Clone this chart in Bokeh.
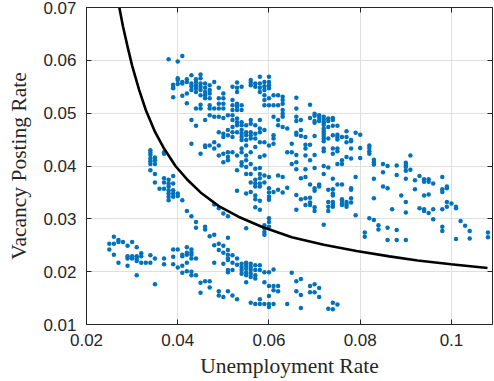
from bokeh.plotting import figure
from bokeh.models import LinearAxis, FixedTicker, Range1d, CustomJSTickFormatter
from bokeh.embed import file_html
from bokeh.resources import INLINE

# ---- data ----
u_columns = [0.025, 0.026, 0.027, 0.028, 0.029, 0.030, 0.031, 0.032, 0.033, 0.034,
             0.035, 0.036, 0.037, 0.038, 0.039, 0.040, 0.041, 0.042, 0.043, 0.044,
             0.045, 0.046, 0.047, 0.048, 0.049, 0.050, 0.051, 0.052, 0.053, 0.054,
             0.055, 0.056, 0.057, 0.058, 0.059, 0.060, 0.061, 0.062, 0.063, 0.064,
             0.065, 0.066, 0.067, 0.068, 0.069, 0.070, 0.071, 0.072, 0.073, 0.074,
             0.075, 0.076, 0.077, 0.078, 0.079, 0.080, 0.081, 0.082, 0.083, 0.084,
             0.085, 0.086, 0.087, 0.088, 0.089, 0.090, 0.091, 0.092, 0.093, 0.094,
             0.095, 0.096, 0.098, 0.099, 0.100, 0.101, 0.102, 0.103, 0.104, 0.108]

v_by_column = [
    [0.0253, 0.0242],
    [0.0266, 0.0253, 0.0232],
    [0.0260, 0.0256, 0.0217],
    [0.0256],
    [0.0249, 0.0229, 0.0225, 0.0211],
    [0.0256, 0.0229, 0.0225],
    [0.0246, 0.0229, 0.0225, 0.0220, 0.0193],
    [0.0235, 0.0229, 0.0217],
    [0.0217],
    [0.0430, 0.0425, 0.0421, 0.0414, 0.0409, 0.0404, 0.0392, 0.0231, 0.0217],
    [0.0416, 0.0411, 0.0404, 0.0385, 0.0369, 0.0225, 0.0176],
    [0.0357],
    [0.0426, 0.0423, 0.0377, 0.0369, 0.0357, 0.0225, 0.0214],
    [0.0602, 0.0374, 0.0367, 0.0361, 0.0354, 0.0348, 0.0342, 0.0335],
    [0.0554, 0.0550, 0.0547, 0.0530, 0.0381, 0.0367, 0.0354, 0.0348, 0.0342, 0.0242, 0.0228, 0.0214],
    [0.0598, 0.0566, 0.0563, 0.0555, 0.0348, 0.0343, 0.0242, 0.0208],
    [0.0608, 0.0559, 0.0556, 0.0533, 0.0335, 0.0232, 0.0229, 0.0211, 0.0198],
    [0.0564, 0.0559, 0.0537, 0.0519, 0.0315, 0.0246, 0.0236, 0.0232, 0.0217, 0.0201],
    [0.0572, 0.0556, 0.0551, 0.0544, 0.0487, 0.0442, 0.0305, 0.0242, 0.0236, 0.0232, 0.0225, 0.0200, 0.0193],
    [0.0564, 0.0559, 0.0553, 0.0547, 0.0540, 0.0509, 0.0476, 0.0294, 0.0283, 0.0225, 0.0193],
    [0.0573, 0.0566, 0.0556, 0.0550, 0.0544, 0.0534, 0.0516, 0.0509, 0.0423, 0.0179, 0.0160],
    [0.0556, 0.0548, 0.0540, 0.0534, 0.0528, 0.0487, 0.0439, 0.0436, 0.0285, 0.0280, 0.0182],
    [0.0553, 0.0544, 0.0537, 0.0528, 0.0515, 0.0509, 0.0496, 0.0439, 0.0267, 0.0182, 0.0170],
    [0.0559, 0.0509, 0.0493, 0.0445, 0.0433, 0.0327, 0.0270, 0.0250, 0.0217],
    [0.0548, 0.0528, 0.0518, 0.0509, 0.0493, 0.0464, 0.0439, 0.0420, 0.0320, 0.0253, 0.0241, 0.0163, 0.0155],
    [0.0537, 0.0528, 0.0518, 0.0509, 0.0491, 0.0461, 0.0455, 0.0423, 0.0407, 0.0310, 0.0249, 0.0236, 0.0215, 0.0152],
    [0.0496, 0.0468, 0.0458, 0.0426, 0.0417, 0.0411, 0.0305, 0.0264, 0.0241, 0.0232, 0.0225, 0.0222, 0.0203, 0.0199, 0.0163],
    [0.0550, 0.0525, 0.0515, 0.0506, 0.0496, 0.0487, 0.0474, 0.0464, 0.0455, 0.0426, 0.0231, 0.0217, 0.0203, 0.0155],
    [0.0558, 0.0548, 0.0540, 0.0518, 0.0512, 0.0506, 0.0490, 0.0483, 0.0477, 0.0464, 0.0420, 0.0392, 0.0353, 0.0225, 0.0213, 0.0148],
    [0.0550, 0.0515, 0.0506, 0.0483, 0.0477, 0.0468, 0.0461, 0.0455, 0.0449, 0.0433, 0.0426, 0.0407, 0.0401, 0.0215, 0.0209, 0.0203, 0.0196],
    [0.0477, 0.0464, 0.0458, 0.0449, 0.0439, 0.0420, 0.0411, 0.0398, 0.0385, 0.0348, 0.0282, 0.0217, 0.0212, 0.0206, 0.0199, 0.0193, 0.0180],
    [0.0563, 0.0558, 0.0553, 0.0487, 0.0480, 0.0464, 0.0458, 0.0452, 0.0426, 0.0404, 0.0385, 0.0369, 0.0351, 0.0215, 0.0209, 0.0203, 0.0196, 0.0190, 0.0141],
    [0.0556, 0.0550, 0.0477, 0.0461, 0.0452, 0.0436, 0.0395, 0.0374, 0.0367, 0.0361, 0.0344, 0.0337, 0.0322, 0.0212, 0.0203, 0.0193, 0.0187, 0.0139],
    [0.0569, 0.0556, 0.0548, 0.0540, 0.0487, 0.0471, 0.0464, 0.0445, 0.0417, 0.0396, 0.0385, 0.0377, 0.0367, 0.0361, 0.0334, 0.0317, 0.0212, 0.0203, 0.0148, 0.0139],
    [0.0559, 0.0551, 0.0544, 0.0534, 0.0525, 0.0515, 0.0468, 0.0445, 0.0420, 0.0382, 0.0369, 0.0288, 0.0282, 0.0275, 0.0270, 0.0199, 0.0180, 0.0139],
    [0.0569, 0.0559, 0.0553, 0.0547, 0.0528, 0.0515, 0.0439, 0.0379, 0.0358, 0.0350, 0.0342, 0.0336, 0.0301, 0.0294, 0.0285, 0.0199, 0.0173, 0.0154, 0.0139, 0.0133],
    [0.0534, 0.0515, 0.0493, 0.0458, 0.0452, 0.0442, 0.0351, 0.0204, 0.0173, 0.0165, 0.0139],
    [0.0534, 0.0515, 0.0487, 0.0477, 0.0382, 0.0355, 0.0173, 0.0163],
    [0.0531, 0.0525, 0.0518, 0.0506, 0.0499, 0.0493, 0.0474, 0.0379, 0.0350],
    [0.0471, 0.0426, 0.0359, 0.0139],
    [0.0442, 0.0426, 0.0404, 0.0198],
    [0.0529, 0.0509, 0.0493, 0.0485, 0.0463, 0.0459, 0.0421, 0.0407, 0.0394, 0.0345, 0.0317, 0.0182, 0.0163],
    [0.0487, 0.0468, 0.0457, 0.0377, 0.0337, 0.0186, 0.0156, 0.0131],
    [0.0455, 0.0440, 0.0433, 0.0420, 0.0394, 0.0379, 0.0339, 0.0326],
    [0.0516, 0.0491, 0.0440, 0.0411, 0.0365, 0.0340, 0.0331, 0.0326, 0.0173, 0.0161],
    [0.0499, 0.0495, 0.0485, 0.0482, 0.0457, 0.0421, 0.0396, 0.0358, 0.0353, 0.0322, 0.0315, 0.0176, 0.0161],
    [0.0496, 0.0491, 0.0485, 0.0365, 0.0361, 0.0169, 0.0152],
    [0.0493, 0.0488, 0.0483, 0.0478, 0.0471, 0.0466, 0.0461, 0.0457, 0.0452, 0.0447, 0.0433, 0.0428, 0.0400, 0.0385, 0.0289],
    [0.0490, 0.0485, 0.0474, 0.0452, 0.0397, 0.0355, 0.0332, 0.0323, 0.0315, 0.0130],
    [0.0491, 0.0487, 0.0476, 0.0458, 0.0433, 0.0423, 0.0376, 0.0356, 0.0348, 0.0344, 0.0332, 0.0327, 0.0323, 0.0141, 0.0129],
    [0.0476, 0.0459, 0.0455, 0.0450, 0.0433, 0.0428, 0.0404, 0.0365, 0.0138],
    [0.0455, 0.0411, 0.0404, 0.0365, 0.0337, 0.0334, 0.0329, 0.0326],
    [0.0466, 0.0455, 0.0445, 0.0417, 0.0332, 0.0327, 0.0323],
    [0.0449, 0.0447, 0.0433, 0.0414, 0.0358, 0.0355, 0.0339, 0.0331],
    [0.0463, 0.0379, 0.0307],
    [0.0459, 0.0434, 0.0415],
    [0.0274, 0.0266],
    [0.0439, 0.0434, 0.0428, 0.0423, 0.0301],
    [0.0412, 0.0407, 0.0403, 0.0376, 0.0339, 0.0298],
    [0.0288, 0.0280],
    [0.0404, 0.0388, 0.0361],
    [0.0400, 0.0358, 0.0283, 0.0260],
    [0.0318],
    [0.0401, 0.0383, 0.0279, 0.0260],
    [0.0344],
    [0.0406, 0.0402, 0.0398, 0.0391, 0.0376, 0.0332, 0.0312, 0.0260],
    [0.0420, 0.0393],
    [0.0373, 0.0356],
    [0.0381, 0.0320],
    [0.0375, 0.0370, 0.0344, 0.0318, 0.0315],
    [0.0375, 0.0370, 0.0346, 0.0311],
    [0.0367, 0.0318, 0.0299],
    [0.0379, 0.0356, 0.0351, 0.0318, 0.0285, 0.0277],
    [0.0361, 0.0358, 0.0332, 0.0323],
    [0.0329],
    [0.0323, 0.0320, 0.0262],
    [0.0296],
    [0.0287],
    [0.0277, 0.0263],
    [0.0274, 0.0265],
]

curve_u = [0.0272, 0.0280, 0.0290, 0.0300, 0.0315, 0.0330, 0.0350, 0.0370, 0.0395,
           0.0420, 0.0450, 0.0490, 0.0533, 0.0584, 0.0650, 0.0720, 0.0792, 0.0864,
           0.0926, 0.0999, 0.1079]
curve_v = [0.0700, 0.0664, 0.0626, 0.0590, 0.0545, 0.0506, 0.0465, 0.0433, 0.0400,
           0.0375, 0.0350, 0.0324, 0.0304, 0.0285, 0.0265, 0.0251, 0.0239, 0.0229,
           0.0221, 0.0214, 0.0207]

x_ticks = [0.02, 0.04, 0.06, 0.08, 0.1]
x_labels = ["0.02", "0.04", "0.06", "0.08", "0.1"]
y_ticks = [0.01, 0.02, 0.03, 0.04, 0.05, 0.06, 0.07]
y_labels = ["0.01", "0.02", "0.03", "0.04", "0.05", "0.06", "0.07"]

unemployment = []
vacancy = []
for uc, vs in zip(u_columns, v_by_column):
    for vv in vs:
        unemployment.append(uc)
        vacancy.append(vv)

AX = "#262626"
GRID = "#dfdfdf"
BLUE = "#0072BD"

p = figure(frame_width=406, frame_height=317,
           x_range=Range1d(0.02, 0.109), y_range=Range1d(0.01, 0.07),
           output_backend="svg", toolbar_location=None,
           min_border_left=86, min_border_right=2, min_border_top=7, min_border_bottom=57,
           x_axis_label="Unemployment Rate", y_axis_label="Vacancy Posting Rate")
p.outline_line_color = None
p.background_fill_color = "white"
p.border_fill_color = "white"

code = ("const i = tvals.findIndex(t => Math.abs(t - tick) < 1e-9);"
        " return i >= 0 ? tlabels[i] : '';")
xfmt = CustomJSTickFormatter(args=dict(tvals=x_ticks, tlabels=x_labels), code=code)
yfmt = CustomJSTickFormatter(args=dict(tvals=y_ticks, tlabels=y_labels), code=code)

for ax, tk, fm in ((p.xaxis[0], x_ticks, xfmt), (p.yaxis[0], y_ticks, yfmt)):
    ax.ticker = FixedTicker(ticks=tk)
    ax.formatter = fm
    ax.major_tick_in = 5
    ax.major_tick_out = 0
    ax.minor_tick_line_color = None
    ax.axis_line_color = AX
    ax.major_tick_line_color = AX
    ax.major_label_text_font = "Liberation Sans"
    ax.major_label_text_font_size = "17px"
    ax.major_label_text_color = AX
    ax.axis_label_text_font = "Liberation Serif"
    ax.axis_label_text_font_size = "21.5px"
    ax.axis_label_text_font_style = "normal"
    ax.axis_label_text_color = AX

p.xaxis[0].major_label_standoff = 9
p.xaxis[0].axis_label_standoff = 5
p.yaxis[0].major_label_standoff = 10
p.yaxis[0].axis_label_standoff = 9

for loc, tk in (("above", x_ticks), ("right", y_ticks)):
    ax = LinearAxis(ticker=FixedTicker(ticks=tk),
                    formatter=CustomJSTickFormatter(code="return '';"),
                    major_tick_in=5, major_tick_out=0, major_label_standoff=0,
                    minor_tick_line_color=None, axis_line_color=AX,
                    major_tick_line_color=AX, major_label_text_font_size="1px")
    p.add_layout(ax, loc)

p.xgrid.ticker = FixedTicker(ticks=x_ticks)
p.ygrid.ticker = FixedTicker(ticks=y_ticks)
p.xgrid.grid_line_color = GRID
p.ygrid.grid_line_color = GRID

p.scatter(unemployment, vacancy, size=4.5, fill_color=BLUE, line_color=None)
p.line(curve_u, curve_v, line_color="black", line_width=2.6)

open("out.html", "w").write(file_html(p, INLINE))
